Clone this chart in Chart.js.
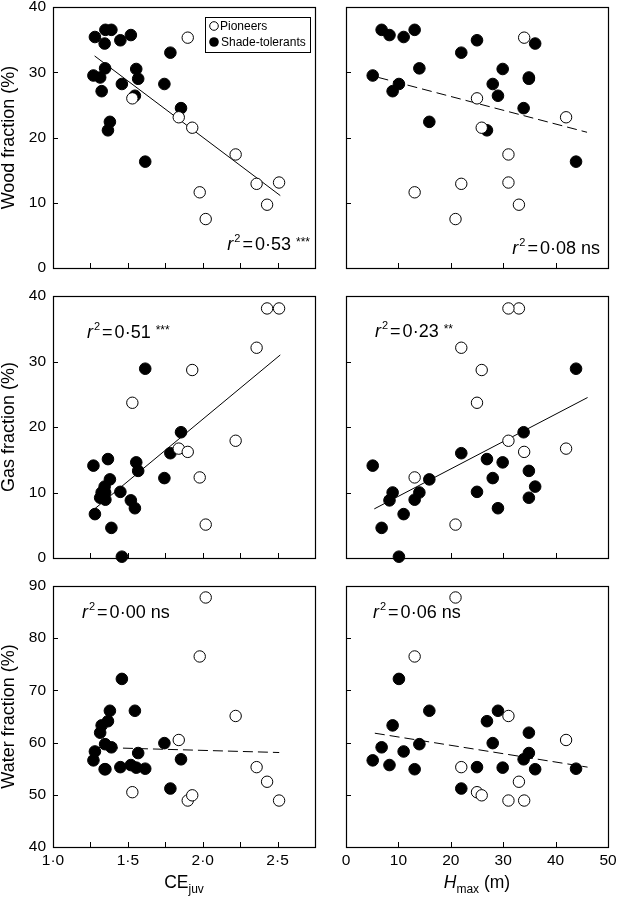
<!DOCTYPE html>
<html lang="en">
<head>
<meta charset="UTF-8">
<title>Wood, gas and water fractions vs CEjuv and Hmax</title>
<script src="https://cdn.jsdelivr.net/npm/chart.js"></script>
<style>
  body { margin: 0; background: #fff; }
  #fig { position: relative; width: 619px; height: 900px; overflow: hidden; }
  #fig canvas { position: absolute; }
</style>
</head>
<body>
<div id="fig">
  <canvas id="woodCE"   width="330" height="280" style="left:0;top:0"></canvas>
  <canvas id="woodH"    width="289" height="280" style="left:330px;top:0"></canvas>
  <canvas id="gasCE"    width="330" height="290" style="left:0;top:280px"></canvas>
  <canvas id="gasH"     width="289" height="290" style="left:330px;top:280px"></canvas>
  <canvas id="waterCE"  width="330" height="330" style="left:0;top:570px"></canvas>
  <canvas id="waterH"   width="289" height="330" style="left:330px;top:570px"></canvas>
</div>
<script>
// pioneers (open circles), one entry per species
const pioneerCE    = [1.53, 1.84, 1.90, 1.93, 1.98, 2.02, 2.22, 2.36, 2.43, 2.51];
const pioneerHmax  = [25.0, 42.0, 34.0, 25.9, 13.1, 20.9, 31.0, 22.0, 33.0, 31.0];
const pioneerWood  = [26.0, 23.1, 35.3, 21.5, 11.6, 7.5, 17.4, 12.9, 9.7, 13.1];
const pioneerGas   = [23.7, 16.7, 16.2, 28.7, 12.3, 5.1, 17.9, 32.1, 38.1, 38.1];
const pioneerWater = [50.5, 60.5, 48.9, 49.9, 76.5, 87.8, 65.1, 55.3, 52.5, 48.9];

// shade-tolerants (filled circles), one entry per species
const shadeCE    = [1.28, 1.35, 1.39, 1.345, 1.45, 1.52, 1.27, 1.315, 1.348, 1.325, 1.46, 1.556, 1.569, 1.38, 1.367, 1.616, 1.744, 1.784, 1.855, 1.547];
const shadeHmax  = [11.0, 13.1, 6.8, 36.1, 25.0, 8.3, 5.1, 34.9, 14.0, 8.9, 10.1, 29.9, 34.9, 15.9, 26.9, 43.9, 28.0, 22.0, 33.9, 29.0];
const shadeWood  = [35.4, 36.5, 36.5, 34.4, 34.9, 35.7, 29.5, 29.2, 30.6, 27.1, 28.2, 30.5, 29.0, 22.4, 21.1, 16.3, 28.2, 33.0, 24.5, 26.4];
const shadeGas   = [6.7, 8.9, 4.6, 10.9, 10.1, 8.8, 14.1, 9.2, 10.0, 10.0, 0.2, 14.6, 13.3, 12.0, 15.1, 28.9, 12.2, 16.0, 19.2, 7.6];
const shadeWater = [58.3, 54.9, 59.1, 54.9, 55.3, 55.7, 56.6, 61.9, 59.7, 63.3, 72.2, 55.2, 58.0, 66.1, 64.1, 55.0, 59.9, 51.2, 56.8, 66.1];

// regression lines (end points)
const fitCEx       = [1.278, 2.518];
const fitWoodCEy   = [32.5, 11.1];
const fitGasCEy    = [7.5, 31.0];
const fitWaterCEx  = [1.267, 2.511];
const fitWaterCEy  = [59.1, 58.1];
const fitWoodHx    = [6.2, 46.0];
const fitWoodHy    = [29.2, 20.8];
const fitGasHx     = [5.4, 46.1];
const fitGasHy     = [7.5, 24.5];
const fitWaterHx   = [5.5, 46.1];
const fitWaterHy   = [61.8, 55.3];

// r² labels
const r2Values = ['0·53', '0·08', '0·51', '0·23', '0·00', '0·06'];
const r2Signif = ['***', 'ns', '***', '**', 'ns', 'ns'];

const FAMILY = '"Liberation Sans", Arial, Helvetica, sans-serif';
Chart.defaults.font.family = FAMILY;
Chart.defaults.color = '#000';

const pairs = (xs, ys) => xs.map((x, i) => ({ x: x, y: ys[i] }));
const dotLabel = v => v.toFixed(1).replace('.', '·');

// frame + inward tick marks + annotations
const figPlugin = {
  id: 'fig',
  afterDraw(chart, args, o) {
    const { ctx, chartArea: a, scales } = chart;
    ctx.save();
    ctx.strokeStyle = '#000';
    ctx.lineWidth = 1.2;
    ctx.strokeRect(Math.round(a.left) + 0.5, Math.round(a.top) + 0.5,
                   Math.round(a.right - a.left), Math.round(a.bottom - a.top));
    ctx.lineWidth = 1;
    ctx.beginPath();
    const xs = scales.x, ys = scales.y;
    xs.ticks.forEach(t => {
      if (t.value <= xs.min + 1e-6 || t.value >= xs.max - 1e-6) return;
      const px = Math.round(xs.getPixelForValue(t.value)) + 0.5;
      ctx.moveTo(px, a.bottom); ctx.lineTo(px, a.bottom - 5);
    });
    ys.ticks.forEach(t => {
      if (t.value <= ys.min + 1e-6 || t.value >= ys.max - 1e-6) return;
      const py = Math.round(ys.getPixelForValue(t.value)) + 0.5;
      ctx.moveTo(a.left, py); ctx.lineTo(a.left + 5, py);
    });
    ctx.stroke();

    ctx.fillStyle = '#000';
    ctx.textBaseline = 'alphabetic';

    // r² = value  signif
    const big = 18, small = 11;
    const parts = [
      { t: 'r', f: `italic ${big}px ${FAMILY}`, dy: 0, pad: 1 },
      { t: '2', f: `${small}px ${FAMILY}`, dy: -8, pad: 2 },
      { t: '=', f: `${big}px ${FAMILY}`, dy: 0, pad: 2 },
      { t: o.r2, f: `${big}px ${FAMILY}`, dy: 0, pad: 5 }
    ];
    if (o.sig === 'ns') parts.push({ t: 'ns', f: `${big}px ${FAMILY}`, dy: 0, pad: 0 });
    else parts.push({ t: o.sig, f: `${small + 1}px ${FAMILY}`, dy: -4, pad: 0 });
    let total = 0;
    parts.forEach(p => { ctx.font = p.f; p.w = ctx.measureText(p.t).width; total += p.w + p.pad; });
    let x = o.r2Right ? a.right - o.r2dx - total : a.left + o.r2dx;
    const base = o.r2Bottom ? a.bottom - o.r2dy : a.top + o.r2dy;
    parts.forEach(p => {
      ctx.font = p.f;
      ctx.fillText(p.t, x, base + p.dy);
      x += p.w + p.pad;
    });

    // x axis title with subscript
    if (o.xTitle) {
      const segs = o.xTitle.map(s => ({ ...s }));
      let w = 0;
      segs.forEach(s => { ctx.font = s.f; s.w = ctx.measureText(s.t).width; w += s.w; });
      let tx = (a.left + a.right) / 2 - w / 2;
      segs.forEach(s => {
        ctx.font = s.f;
        ctx.fillText(s.t, tx, a.bottom + 41 + s.dy);
        tx += s.w;
      });
    }

    // legend box
    if (o.legend) {
      const bx = a.right - 110, by = a.top + 10, bw = 105, bh = 35;
      ctx.lineWidth = 1;
      ctx.strokeRect(Math.round(bx) + 0.5, Math.round(by) + 0.5, bw, bh);
      ctx.font = `12px ${FAMILY}`;
      ctx.textBaseline = 'middle';
      ctx.beginPath();
      ctx.arc(bx + 9, by + 9, 4.3, 0, Math.PI * 2);
      ctx.fillStyle = '#fff'; ctx.fill(); ctx.stroke();
      ctx.fillStyle = '#000';
      ctx.fillText('Pioneers', bx + 15, by + 9.5);
      ctx.beginPath();
      ctx.arc(bx + 9, by + 25, 4.8, 0, Math.PI * 2);
      ctx.fill();
      ctx.fillText('Shade-tolerants', bx + 16, by + 25.5);
    }
    ctx.restore();
  }
};

function panel(id, o) {
  return new Chart(document.getElementById(id), {
    type: 'scatter',
    data: {
      datasets: [
        { label: 'Pioneers', data: pairs(o.x1, o.y1), pointRadius: 5.7, pointHoverRadius: 5.7,
          pointBorderWidth: 1, borderColor: '#000', backgroundColor: '#fff', clip: false },
        { label: 'Shade-tolerants', data: pairs(o.x2, o.y2), pointRadius: 5.8, pointHoverRadius: 5.8,
          pointBorderWidth: 1, borderColor: '#000', backgroundColor: '#000', clip: false },
        { label: 'Fit', data: pairs(o.fx, o.fy), showLine: true, pointRadius: 0, borderColor: '#000',
          borderWidth: 1, borderDash: o.dashed ? [10, 5] : [], clip: false }
      ]
    },
    options: {
      responsive: false,
      animation: false,
      events: [],
      layout: { padding: { top: o.padTop, right: o.padRight, left: 0, bottom: 0 } },
      scales: {
        x: {
          type: 'linear', min: o.xmin, max: o.xmax,
          grid: { display: false, drawTicks: false }, border: { display: false },
          ticks: { display: o.xLabels, stepSize: o.xstep, autoSkip: false, maxRotation: 0,
                   padding: 4, font: { size: 15.5 }, color: '#000', callback: o.xcb },
          afterFit(s) { s.height = o.xh; s.paddingLeft = 0; s.paddingRight = 0; }
        },
        y: {
          type: 'linear', min: o.ymin, max: o.ymax,
          grid: { display: false, drawTicks: false }, border: { display: false },
          ticks: { display: o.yLabels, stepSize: 10, padding: 7, font: { size: 15.5 }, color: '#000' },
          title: { display: !!o.yTitle, text: o.yTitle, padding: 0, color: '#000',
                   font: { size: 18, lineHeight: 1 } },
          afterFit(s) { s.width = o.yw; s.paddingTop = 0; s.paddingBottom = 0; }
        }
      },
      plugins: {
        legend: { display: false },
        tooltip: { enabled: false },
        fig: { r2: o.r2, sig: o.sig, r2Right: o.r2Right, r2Bottom: o.r2Bottom, r2dx: o.r2dx, r2dy: o.r2dy,
               legend: o.legend, xTitle: o.xTitle }
      }
    },
    plugins: [figPlugin]
  });
}

const ceAxis = { xmin: 1.0, xmax: 2.75, xstep: 0.25,
  xcb: v => (Math.round(v * 100) % 50 === 0 && v < 2.7) ? dotLabel(v) : '' };
const hAxis = { xmin: 0, xmax: 50, xstep: 10, xcb: v => String(v) };
const left = { yw: 53, padRight: 15, yLabels: true };
const right = { yw: 16, padRight: 11, yLabels: false };
const rowTop = { padTop: 7, xh: 12, xLabels: false };
const rowMid = { padTop: 16, xh: 12, xLabels: false };
const rowBot = { padTop: 16, xh: 53, xLabels: true };

const ceTitle = [
  { t: 'CE', f: `17.5px ${FAMILY}`, dy: 0 },
  { t: 'juv', f: `12px ${FAMILY}`, dy: 5 }
];
const hTitle = [
  { t: 'H', f: `italic 17.5px ${FAMILY}`, dy: 0 },
  { t: 'max', f: `12px ${FAMILY}`, dy: 5 },
  { t: ' (m)', f: `17.5px ${FAMILY}`, dy: 0 }
];

panel('woodCE', { ...ceAxis, ...left, ...rowTop, ymin: 0, ymax: 40, yTitle: 'Wood fraction (%)',
  x1: pioneerCE, y1: pioneerWood, x2: shadeCE, y2: shadeWood, fx: fitCEx, fy: fitWoodCEy, dashed: false,
  r2: r2Values[0], sig: r2Signif[0], r2Right: true, r2Bottom: true, r2dx: 5, r2dy: 18, legend: true });
panel('woodH', { ...hAxis, ...right, ...rowTop, ymin: 0, ymax: 40,
  x1: pioneerHmax, y1: pioneerWood, x2: shadeHmax, y2: shadeWood, fx: fitWoodHx, fy: fitWoodHy, dashed: true,
  r2: r2Values[1], sig: r2Signif[1], r2Right: true, r2Bottom: true, r2dx: 8, r2dy: 14 });
panel('gasCE', { ...ceAxis, ...left, ...rowMid, ymin: 0, ymax: 40, yTitle: 'Gas fraction (%)',
  x1: pioneerCE, y1: pioneerGas, x2: shadeCE, y2: shadeGas, fx: fitCEx, fy: fitGasCEy, dashed: false,
  r2: r2Values[2], sig: r2Signif[2], r2Right: false, r2Bottom: false, r2dx: 34, r2dy: 42 });
panel('gasH', { ...hAxis, ...right, ...rowMid, ymin: 0, ymax: 40,
  x1: pioneerHmax, y1: pioneerGas, x2: shadeHmax, y2: shadeGas, fx: fitGasHx, fy: fitGasHy, dashed: false,
  r2: r2Values[3], sig: r2Signif[3], r2Right: false, r2Bottom: false, r2dx: 29, r2dy: 41 });
panel('waterCE', { ...ceAxis, ...left, ...rowBot, ymin: 40, ymax: 90, yTitle: 'Water fraction (%)',
  x1: pioneerCE, y1: pioneerWater, x2: shadeCE, y2: shadeWater, fx: fitWaterCEx, fy: fitWaterCEy, dashed: true,
  r2: r2Values[4], sig: r2Signif[4], r2Right: false, r2Bottom: false, r2dx: 29, r2dy: 32, xTitle: ceTitle });
panel('waterH', { ...hAxis, ...right, ...rowBot, ymin: 40, ymax: 90,
  x1: pioneerHmax, y1: pioneerWater, x2: shadeHmax, y2: shadeWater, fx: fitWaterHx, fy: fitWaterHy, dashed: true,
  r2: r2Values[5], sig: r2Signif[5], r2Right: false, r2Bottom: false, r2dx: 27, r2dy: 32, xTitle: hTitle });
</script>
</body>
</html>
